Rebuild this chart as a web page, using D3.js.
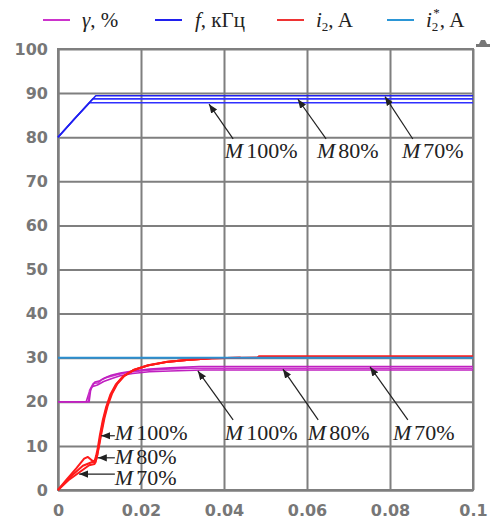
<!DOCTYPE html>
<html>
<head>
<meta charset="utf-8">
<script src="https://cdn.jsdelivr.net/npm/d3@7"></script>
<style>
  body { margin: 0; background: #fff; }
  svg text { font-family: "Liberation Serif", "Times New Roman", serif; }
  .axis text { font-family: "DejaVu Sans", sans-serif; font-weight: bold; font-size: 16px; fill: #777; }
  .axis line, .axis path { stroke: #7f7f7f; stroke-width: 2; }
</style>
</head>
<body>
<div id="chart"></div>
<script>
const xTicks = [0, 0.02, 0.04, 0.06, 0.08, 0.1]
const yTicks = [0, 10, 20, 30, 40, 50, 60, 70, 80, 90, 100]

// f, kHz for M 100 / 80 / 70 %
const fM100 = [[0, 80], [0.004, 84.2], [0.0076, 87.8], [0.1, 87.8]]
const fM80 = [[0, 80], [0.004, 84.2], [0.0084, 88.7], [0.1, 88.7]]
const fM70 = [[0, 80], [0.004, 84.2], [0.0091, 89.4], [0.1, 89.4]]

// gamma, %
const gM100 = [[0, 20], [0.0068, 20], [0.0074, 21.8], [0.0082, 23.4], [0.0095, 23.8], [0.011, 24.6],
  [0.013, 25.3], [0.015, 25.9], [0.018, 26.4], [0.022, 26.8], [0.027, 27.0], [0.035, 27.2], [0.1, 27.2]]
const gM80 = [[0, 20], [0.0073, 20], [0.0076, 22.6], [0.0085, 24.2], [0.0097, 24.3], [0.0105, 25.0],
  [0.012, 25.6], [0.014, 26.1], [0.017, 26.7], [0.021, 27.1], [0.026, 27.4], [0.032, 27.6], [0.1, 27.6]]
const gM70 = [[0, 20], [0.0075, 20], [0.0079, 22.9], [0.0089, 24.5], [0.0099, 24.7], [0.0112, 25.4],
  [0.0128, 26.0], [0.015, 26.5], [0.018, 27.0], [0.022, 27.4], [0.027, 27.7], [0.034, 28.0], [0.1, 28.0]]

// i2, A
const iM100 = [[0, 0], [0.002, 2.3], [0.0044, 4.9], [0.0063, 7.1], [0.0072, 7.5], [0.0082, 6.7],
  [0.0088, 6.5], [0.0092, 7.8], [0.0096, 9.6], [0.0101, 12.5], [0.0108, 15.9], [0.0116, 18.8],
  [0.0126, 21.6], [0.0139, 23.9], [0.0156, 25.7], [0.018, 27.1], [0.0215, 28.2], [0.026, 29.0],
  [0.031, 29.5], [0.037, 29.85], [0.044, 30.0], [0.048, 30.05], [0.0485, 30.35], [0.1, 30.35]]
const iM80 = [[0, 0], [0.003, 3.0], [0.006, 5.5], [0.0084, 6.4], [0.009, 6.2], [0.0094, 7.6],
  [0.0098, 9.8], [0.0103, 12.7], [0.011, 16.1], [0.0118, 19.0], [0.0128, 21.7], [0.0141, 24.0],
  [0.0158, 25.8], [0.0182, 27.2], [0.0217, 28.3], [0.026, 29.0], [0.031, 29.5], [0.037, 29.85], [0.044, 30.0]]
const iM70 = [[0, 0], [0.0025, 2.2], [0.005, 3.9], [0.0075, 5.6], [0.0088, 5.9], [0.0093, 7.2],
  [0.0099, 10.0], [0.0105, 13.0], [0.0112, 16.3], [0.012, 19.2], [0.013, 21.8], [0.0143, 24.1],
  [0.016, 25.9], [0.0184, 27.3], [0.0219, 28.3], [0.026, 29.0], [0.031, 29.5], [0.037, 29.85], [0.044, 30.0]]

// i2*, A
const iRef = [[0, 30], [0.1, 30]]

const legendLabels = ['γ', 'f', 'i', 'i']
const legendUnits = [', %', ', кГц', ', A', ', A']
const legendColors = ['#cc33cc', '#2020ee', '#ee3333', '#2b96d6']

// annotations: label, text anchor point, arrow tail, arrow head (data coords)
const annLabels = ['100%', '80%', '70%', '100%', '80%', '70%', '100%', '80%', '70%']
const annText = [[0.0402, 75.3], [0.0624, 75.3], [0.0829, 75.3],
  [0.0402, 11.35], [0.0602, 11.35], [0.0807, 11.35],
  [0.0137, 11.35], [0.0137, 5.9], [0.0137, 1.1]]
const annFrom = [[0.0422, 79.6], [0.0646, 79.6], [0.0855, 79.6],
  [0.0422, 15.9], [0.0627, 15.9], [0.0843, 15.9],
  [0.0137, 12.3], [0.0137, 7.3], [0.0137, 3.6]]
const annTo = [[0.0364, 87.5], [0.0578, 88.6], [0.0788, 89.2],
  [0.0337, 27.0], [0.0542, 27.4], [0.0752, 27.9],
  [0.0104, 12.3], [0.0096, 7.3], [0.0051, 3.6]]

const margin = {top: 49, right: 19, bottom: 30, left: 58}
const width = 492 - margin.left - margin.right
const height = 520 - margin.top - margin.bottom

const svg = d3.select('#chart')
  .append('svg')
  .attr('width', 492)
  .attr('height', 520)

svg.append('defs')
  .append('marker')
  .attr('id', 'arr')
  .attr('viewBox', '0 0 10 10')
  .attr('refX', 10)
  .attr('refY', 5)
  .attr('markerWidth', 9)
  .attr('markerHeight', 9)
  .attr('markerUnits', 'userSpaceOnUse')
  .attr('orient', 'auto')
  .append('path')
  .attr('d', 'M0,1 L10,5 L0,9 Z')
  .attr('fill', '#222')

const g = svg.append('g')
  .attr('transform', `translate(${margin.left},${margin.top})`)

const x = d3.scaleLinear().domain([0, 0.1]).range([0, width])
const y = d3.scaleLinear().domain([0, 100]).range([height, 0])

g.append('g')
  .attr('class', 'axis')
  .attr('transform', `translate(0,${height})`)
  .call(d3.axisBottom(x).tickValues(xTicks).tickFormat(d3.format('~g'))
    .tickSizeInner(-height).tickSizeOuter(0).tickPadding(15))

g.append('g')
  .attr('class', 'axis')
  .call(d3.axisLeft(y).tickValues(yTicks).tickFormat(d3.format('d'))
    .tickSizeInner(-width).tickSizeOuter(0).tickPadding(10))

g.append('rect')
  .attr('width', width)
  .attr('height', height)
  .attr('fill', 'none')
  .attr('stroke', '#7f7f7f')
  .attr('stroke-width', 2)

const line = d3.line().x((d) => x(d[0])).y((d) => y(d[1]))

const series = [
  {data: gM100, color: '#c020c0', w: 1.6},
  {data: gM80, color: '#cc33cc', w: 1.6},
  {data: gM70, color: '#c020c0', w: 1.6},
  {data: fM100, color: '#3030ff', w: 1.6},
  {data: fM80, color: '#3030ff', w: 1.6},
  {data: fM70, color: '#2020ee', w: 1.6},
  {data: iM70, color: '#ff1a1a', w: 2},
  {data: iM80, color: '#ff1a1a', w: 2},
  {data: iM100, color: '#ff1a1a', w: 2},
  {data: iRef, color: '#2b8fd0', w: 2}
]

g.selectAll('path.series')
  .data(series)
  .enter()
  .append('path')
  .attr('class', 'series')
  .attr('d', (d) => line(d.data))
  .attr('fill', 'none')
  .attr('stroke', (d) => d.color)
  .attr('stroke-width', (d) => d.w)
  .attr('stroke-linejoin', 'round')

// annotations
g.selectAll('line.ann')
  .data(annFrom)
  .enter()
  .append('line')
  .attr('class', 'ann')
  .attr('x1', (d) => x(d[0]))
  .attr('y1', (d) => y(d[1]))
  .attr('x2', (d, i) => x(annTo[i][0]))
  .attr('y2', (d, i) => y(annTo[i][1]))
  .attr('stroke', '#222')
  .attr('stroke-width', 1.2)
  .attr('marker-end', 'url(#arr)')

const at = g.selectAll('text.ann')
  .data(annText)
  .enter()
  .append('text')
  .attr('class', 'ann')
  .attr('x', (d) => x(d[0]))
  .attr('y', (d) => y(d[1]))
  .attr('font-size', 22)
  .attr('fill', '#222')
at.append('tspan').attr('font-style', 'italic').text('M')
at.append('tspan').attr('dx', 3).text((d, i) => annLabels[i])

// legend
const legX = [43, 155, 277, 387]
const leg = svg.selectAll('g.leg')
  .data(legendLabels)
  .enter()
  .append('g')
  .attr('class', 'leg')
  .attr('transform', (d, i) => `translate(${legX[i]},20)`)

leg.append('line')
  .attr('x1', 0)
  .attr('x2', 27)
  .attr('stroke', (d, i) => legendColors[i])
  .attr('stroke-width', 2)

const lt = leg.append('text')
  .attr('x', (d, i) => i === 1 ? 40 : 39)
  .attr('y', 7)
  .attr('font-size', 21)
  .attr('fill', '#222')
lt.append('tspan').attr('font-style', 'italic').text((d) => d)
lt.filter((d, i) => i >= 2).append('tspan')
  .attr('font-size', 13).attr('dy', 4).text('2')
lt.filter((d, i) => i === 3).append('tspan')
  .attr('font-size', 13).attr('dx', -5).attr('dy', -14).text('*')
lt.append('tspan')
  .attr('dy', (d, i) => i === 2 ? -4 : i === 3 ? 10 : 0)
  .text((d, i) => legendUnits[i])

// small toolbar glyph in the corner
svg.append('path')
  .attr('d', 'M476,44 h14 v3 h-14 Z M479,44 l2,-4 h4 l2,4 Z')
  .attr('fill', '#777')
</script>
</body>
</html>
